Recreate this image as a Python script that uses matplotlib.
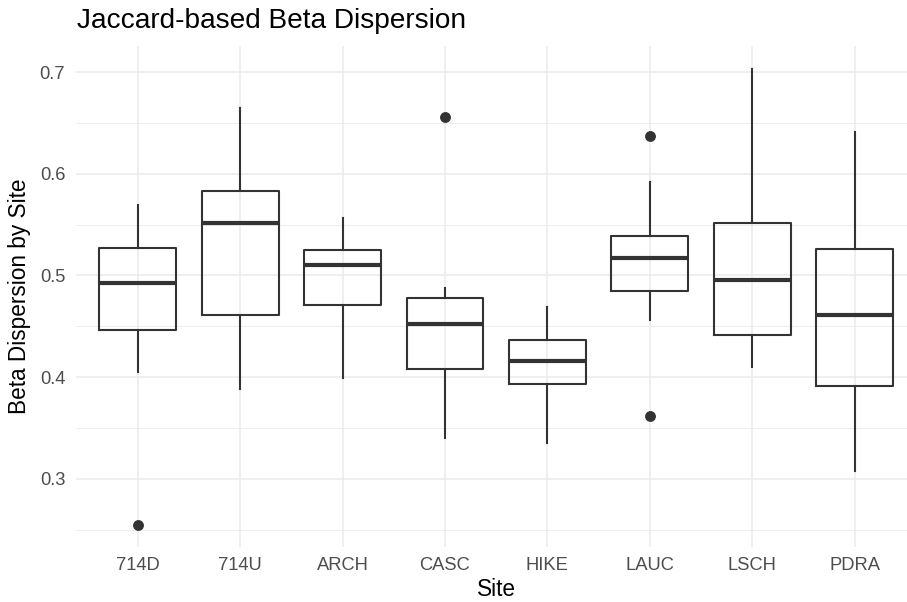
import matplotlib
matplotlib.use("Agg")
import matplotlib.pyplot as plt
import numpy as np

plt.rcParams['font.family'] = ['Liberation Sans', 'DejaVu Sans']

# Box summary per site (whisker ends, quartiles, median) and outliers
sites = ['714D', '714U', 'ARCH', 'CASC', 'HIKE', 'LAUC', 'LSCH', 'PDRA']
whisker_low = [0.405, 0.388, 0.399, 0.340, 0.335, 0.456, 0.410, 0.308]
q1 = [0.446, 0.461, 0.471, 0.408, 0.393, 0.485, 0.441, 0.391]
median = [0.493, 0.552, 0.510, 0.452, 0.416, 0.517, 0.495, 0.461]
q3 = [0.527, 0.583, 0.525, 0.478, 0.436, 0.539, 0.552, 0.526]
whisker_high = [0.569, 0.665, 0.556, 0.488, 0.469, 0.592, 0.703, 0.641]
outliers = [[0.255], [], [], [0.656], [], [0.637, 0.362], [], []]

stats = []
for i, s in enumerate(sites):
    stats.append(dict(label=s, whislo=whisker_low[i], q1=q1[i], med=median[i],
                      q3=q3[i], whishi=whisker_high[i], fliers=outliers[i]))

W, H = 907, 602
fig = plt.figure(figsize=(W / 100, H / 100), dpi=100)
# panel: left 76, right 916 (runs past the edge), top 46, bottom 547 px
ax = fig.add_axes([76.3 / W, 1 - 547 / H, (916 - 76.3) / W, (547 - 46) / H])

line_c = '#333333'
ax.bxp(stats, positions=np.arange(1, len(sites) + 1), widths=0.75,
       showcaps=False, patch_artist=False,
       boxprops=dict(color=line_c, linewidth=1.5),
       whiskerprops=dict(color=line_c, linewidth=1.5),
       medianprops=dict(color=line_c, linewidth=3.0, solid_capstyle='butt'),
       flierprops=dict(marker='o', markerfacecolor=line_c, markeredgecolor=line_c,
                       markersize=6.8, linestyle='none'))

ax.set_xlim(0.4, 8.6)
ax.set_ylim(0.2329, 0.7256)
ax.set_yticks([0.3, 0.4, 0.5, 0.6, 0.7])
ax.set_yticklabels(['0.3', '0.4', '0.5', '0.6', '0.7'])
ax.set_yticks(np.arange(0.25, 0.70, 0.1), minor=True)
ax.set_xticks(np.arange(1, len(sites) + 1))
ax.set_xticklabels(sites)

ax.grid(True, which='major', color='#EBEBEB', linewidth=1.1)
ax.grid(True, which='minor', axis='y', color='#EBEBEB', linewidth=0.6)
ax.set_axisbelow(True)
for sp in ax.spines.values():
    sp.set_visible(False)
ax.tick_params(axis='both', which='both', length=0, labelsize=13.2, labelcolor='#4D4D4D')
ax.tick_params(axis='y', pad=8)
ax.tick_params(axis='x', pad=7)

fig.text((76.3 + 916) / 2 / W, 1 - 589 / H, 'Site', ha='center', va='center', fontsize=16.3)
fig.text(20 / W, 1 - 296.5 / H, 'Beta Dispersion by Site', ha='center', va='center',
         rotation=90, fontsize=16.3)
fig.text(77 / W, 1 - 27.5 / H, 'Jaccard-based Beta Dispersion', ha='left', va='baseline',
         fontsize=20.2)

fig.savefig('out.png', dpi=100)
